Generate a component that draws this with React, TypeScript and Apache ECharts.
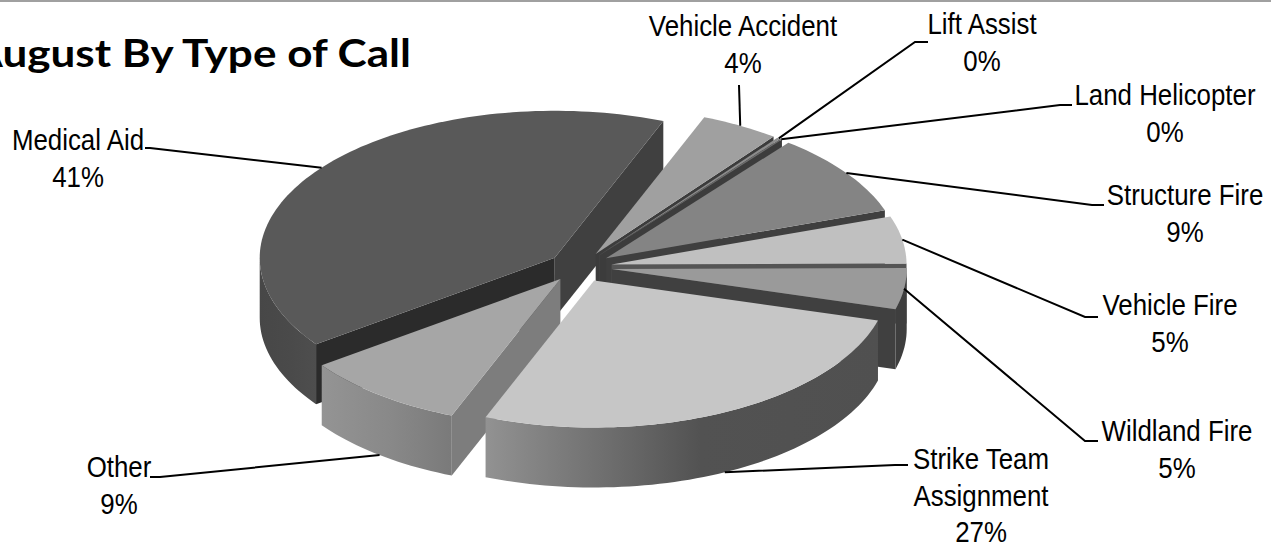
import React, { useEffect, useRef } from "react";
import * as echarts from "echarts";

const categories = ["Medical Aid", "Vehicle Accident", "Lift Assist", "Land Helicopter", "Structure Fire", "Vehicle Fire", "Wildland Fire", "Strike Team\nAssignment", "Other"];
const values = [41, 4.3, 0.2, 0.1, 9.1, 5.2, 4.5, 26.6, 9.0];
const titleText = "August By Type of Call";

const topColors = ["#595959", "#a0a0a0", "#8c8c8c", "#6e6e6e", "#848484", "#c0c0c0", "#9a9a9a", "#c6c6c6", "#a6a6a6"];
const startCutColors = ["#2b2b2b", "#404040", "#404040", "#404040", "#404040", "#555555", "#404040", "#404040", "#7d7d7d"];
const endCutColors = ["#404040", "#3c3c3c", "#4a4a4a", "#3c3c3c", "#3f3f3f", "#555555", "#404040", "#7d7d7d", "#7d7d7d"];
const wallFrom = ["#474747", "#707070", "#555555", "#444444", "#555555", "#707070", "#3e3e3e", "#929292", "#949494"];
const wallMid = ["#4a4a4a", "#707070", "#555555", "#444444", "#555555", "#707070", "#3e3e3e", "#525252", "#888888"];
const wallTo = ["#4e4e4e", "#707070", "#555555", "#444444", "#555555", "#707070", "#3e3e3e", "#505050", "#7a7a7a"];
const drawOrder = [0, 1, 2, 3, 4, 5, 6, 8, 7];

const labelFirstLine = [[78, 140], [743, 26], [982, 24], [1165, 95], [1185, 195], [1170, 305], [1177, 431], [981, 459], [119, 467]];
const leaderBends = [[[150, 148], [145, 148]], [[739, 85]], [[915, 42], [928, 42]], [[1060, 105], [1072, 105]], [[1092, 205], [1104, 205]], [[1085, 317], [1098, 317]], [[1085, 441], [1098, 441]], [[895, 465], [908, 465]], [[160, 477], [150, 477]]];

const CX = 580, CY = 267, RX = 295, RY = 147, DEPTH = 60, EXPLODE = 32, EXPLODE_Y = 0.47, START = 234, LINE_GAP = 36.6;
const rad = (d: number) => (d * Math.PI) / 180;
const total = values.reduce((a, b) => a + b, 0);

const slices = (() => {
  let a = START;
  return values.map((v) => {
    const span = (v / total) * 360;
    const a1 = a >= 360 ? a - 360 : a;
    const a2 = a1 + span;
    a = a1 + span;
    const mid = (a1 + a2) / 2;
    const tx = CX + EXPLODE * Math.sin(rad(mid));
    const ty = CY - EXPLODE * EXPLODE_Y * Math.cos(rad(mid));
    return { a1, a2, mid, tx, ty };
  });
})();

function rim(s: any, th: number): [number, number] {
  return [s.tx + RX * Math.sin(rad(th)), s.ty - RY * Math.cos(rad(th))];
}
function arc(s: any, from: number, to: number, dy = 0) {
  const pts: number[][] = [];
  const n = Math.max(1, Math.ceil((to - from) / 1.5));
  for (let k = 0; k <= n; k++) {
    const p = rim(s, from + ((to - from) * k) / n);
    pts.push([p[0], p[1] + dy]);
  }
  return pts;
}
function cutVisible(s: any, th: number) {
  const p = rim(s, th);
  const m = rim(s, (s.a1 + s.a2) / 2);
  const ex = p[0] - s.tx, ey = p[1] - s.ty;
  const solid = ex * (m[1] - s.ty) - ey * (m[0] - s.tx);
  return ex * solid < 0;
}
function poly(points: number[][], fill: any) {
  return { type: "polygon", shape: { points }, style: { fill, stroke: null } };
}

function renderSlice(_: any, api: any) {
  const i = api.value(0);
  const s = slices[i];
  const children: any[] = [];
  const cut = (th: number, color: string) => {
    if (!cutVisible(s, th)) return;
    const p = rim(s, th);
    children.push(poly([[s.tx, s.ty], p, [p[0], p[1] + DEPTH], [s.tx, s.ty + DEPTH]], color));
  };
  cut(s.a1, startCutColors[i]);
  cut(s.a2, endCutColors[i]);
  const lo = Math.max(s.a1, 90), hi = Math.min(s.a2, 270);
  if (hi > lo) {
    const t = arc(s, lo, hi);
    const b = arc(s, lo, hi, DEPTH).reverse();
    children.push(poly([...t, ...b], new echarts.graphic.LinearGradient(0, 0, 1, 0, [
      { offset: 0, color: wallFrom[i] },
      { offset: 0.55, color: wallMid[i] },
      { offset: 1, color: wallTo[i] },
    ])));
  }
  children.push(poly([[s.tx, s.ty], ...arc(s, s.a1, s.a2)], topColors[i]));
  return { type: "group", children };
}

function renderLabel(_: any, api: any) {
  const i = api.value(0);
  const s = slices[i];
  const p = rim(s, s.mid);
  const start = [p[0], p[1] + (s.mid > 120 && s.mid < 240 ? DEPTH : 0)];
  const c = labelFirstLine[i];
  const lines = `${categories[i]}\n${Math.round(values[i])}%`.split("\n");
  return {
    type: "group",
    children: [
      { type: "polyline", shape: { points: [start, ...leaderBends[i]] }, style: { fill: null, stroke: "#000", lineWidth: 2 } },
      ...lines.map((text, k) => ({
        type: "text",
        x: c[0], y: c[1] + k * LINE_GAP, scaleX: 0.862,
        style: {
          text,
          fill: "#000",
          font: '30px "Liberation Sans", sans-serif',
          lineHeight: 25,
          align: "center",
          verticalAlign: "middle",
        },
      })),
    ],
  };
}

export default function App() {
  const ref = useRef<HTMLDivElement>(null);
  useEffect(() => {
    document.body.style.margin = "0";
    document.body.style.background = "#fff";
    const chart = echarts.init(ref.current!, undefined, { renderer: "svg" });
    chart.setOption({
      animation: false,
      backgroundColor: "#fff",
      graphic: [
        { type: "rect", shape: { x: 0, y: 0, width: 1271, height: 2 }, style: { fill: "#a0a0a0" } },
        { type: "text", x: 411, y: 52, scaleX: 1.13, style: { text: titleText, fill: "#000", font: 'bold 39px Lato, "Noto Sans", sans-serif', align: "right", verticalAlign: "middle" } },
      ],
      series: [
        { type: "custom", coordinateSystem: "none", renderItem: renderSlice, data: drawOrder.map((i) => [i, values[i]]), silent: true, z: 2 },
        { type: "custom", coordinateSystem: "none", renderItem: renderLabel, data: values.map((v, i) => [i, v]), silent: true, z: 3 },
      ],
    });
    return () => chart.dispose();
  }, []);
  return <div ref={ref} style={{ width: 1271, height: 548 }} />;
}
